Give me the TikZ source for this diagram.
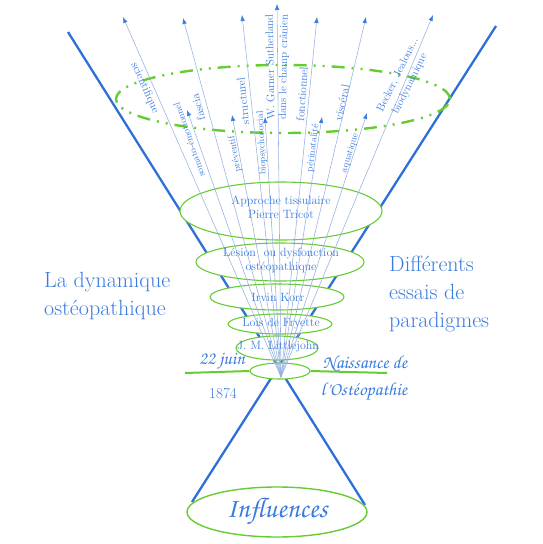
\documentclass[tikz,border=0pt]{standalone}
\usepackage[T1,TU]{fontenc}
\usepackage{fontspec}
\usetikzlibrary{shapes.geometric,arrows.meta}
\definecolor{lblue}{RGB}{47,111,216}
\definecolor{tblue}{RGB}{58,123,222}
\definecolor{gr}{RGB}{102,204,51}
\definecolor{ablue}{RGB}{150,175,225}
\newcommand{\myscript}{\fontencoding{T1}\fontfamily{pzc}\fontseries{mb}\fontshape{it}\selectfont}
\tikzset{
  blueline/.style={draw=lblue,line width=2.3pt},
  gline/.style={draw=gr,line width=2pt},
  ell/.style={ellipse,draw=gr,line width=1.1pt,fill=white,inner sep=0pt},
  ray/.style={draw=ablue,line width=0.55pt,-{Latex[length=6pt,width=4.5pt,color=tblue]}},
  lab/.style={text=tblue,font=\fontsize{11.5}{13}\selectfont,inner sep=0pt},
  slab/.style={text=tblue,font=\fontsize{9.5}{11}\selectfont,inner sep=0pt},
  etext/.style={text=tblue,font=\fontsize{12}{14}\selectfont,inner sep=0pt,align=center},
  big/.style={text=tblue,font=\fontsize{22}{28}\selectfont,inner sep=0pt,align=left,anchor=west},
  scr/.style={text=tblue,font=\myscript\fontsize{18.5}{22}\selectfont,inner sep=0pt}
}
\begin{document}
\begin{tikzpicture}[x=1pt,y=-1pt]
\useasboundingbox (0,0) rectangle (542,544);
% funnel lines
\coordinate (tl) at (68,32);
\coordinate (tr) at (496,26);
\coordinate (bl) at (192,502);
\coordinate (br) at (365,505);
\draw[blueline] (tl) -- (br);
\draw[blueline] (tr) -- (bl);
% dashed ellipse
\node[ellipse,draw=gr,line width=2.4pt,dash pattern=on 13pt off 7pt on 2pt off 7pt on 2pt off 7pt,minimum width=334pt,minimum height=68pt] (dash) at (283,99) {};
% ellipses
\node[ell,minimum width=202pt,minimum height=58pt] (e1) at (281,211) {};
\node[ell,minimum width=168pt,minimum height=38pt] (e2) at (280,262) {};
\node[ell,minimum width=134pt,minimum height=26pt] (e3) at (277,297) {};
\node[ell,minimum width=104pt,minimum height=20pt] (e4) at (280,324) {};
\node[ell,minimum width=82pt,minimum height=24pt] (e5) at (277,348) {};
\node[ell,minimum width=60pt,minimum height=16pt] (c) at (280,371) {};
\node[ell,line width=1.4pt,minimum width=180pt,minimum height=50pt] (inf) at (277,512) {};
% green horizontal lines
\coordinate (gl) at (185,373);
\coordinate (grr) at (387,373);
\draw[gline] (gl) -- (c.west);
\draw[gline] (c.east) -- (grr);
% rays
\coordinate (o) at (281,377);
\coordinate (a1) at (123,17);
\coordinate (a2) at (183,18);
\coordinate (a3) at (242,15);
\coordinate (a4) at (277,4);
\coordinate (a5) at (317,17);
\coordinate (a6) at (366,17);
\coordinate (a7) at (433,15);
\coordinate (b1) at (187,110);
\coordinate (b2) at (232,115);
\coordinate (b3) at (265,117);
\coordinate (b4) at (322,117);
\coordinate (b5) at (367,113);
\foreach \t in {a1,a2,a3,a4,a5,a6,a7,b1,b2,b3,b4,b5}{\draw[ray] (o) -- (\t);}
% ellipse texts
\node[etext] (t1) at (281,207) {Approche tissulaire\\Pierre Tricot};
\node[etext] (t2) at (281,260) {Lésion\ \ ou dysfonction\\ostéopathique};
\node[etext] (t3) at (278,297) {Irvin Korr};
\node[etext] (t4) at (281,324) {Lois de Fryette};
\node[etext] (t5) at (278,347) {J. M. Littlejohn};
% ray labels
\node[lab,rotate=-66] (l1) at (145,88) {scientifique};
\node[slab,rotate=109] (l2) at (189,140) {somato-émotionnel};
\node[lab,rotate=105] (l3) at (198,107) {fascia};
\node[slab,rotate=100] (l4) at (235,154) {préventif};
\node[lab,rotate=96] (l5) at (243,101) {structurel};
\node[slab,rotate=93] (l6) at (262,143) {biopsychosocial};
\node[lab,font=\fontsize{11}{13}\selectfont,rotate=91] (l7) at (270,67) {W. Garner Sutherland};
\node[lab,font=\fontsize{11}{13}\selectfont,rotate=89] (l8) at (284,67) {dans le champ crânien};
\node[lab,rotate=86] (l9) at (302,94) {fonctionnel};
\node[slab,rotate=83] (l10) at (313,148) {périnatalité};
\node[lab,rotate=78] (l11) at (342,103) {viscéral};
\node[slab,rotate=73] (l12) at (350,153) {aquatique};
\node[lab,font=\fontsize{11}{13}\selectfont,rotate=64] (l13) at (398,75) {Becker, Jealous...};
\node[lab,font=\fontsize{11}{13}\selectfont,rotate=64] (l14) at (410,84) {biodynamique};
% side texts
\node[big] (left) at (44,296) {La dynamique\\ostéopathique};
\node[big] (right) at (389,294) {Différents\\essais de\\paradigmes};
% dates
\node[scr] (d1) at (222,362) {22 juin};
\node[text=tblue,font=\fontsize{15}{18}\selectfont,inner sep=0pt] (d2) at (223,394) {1874};
\node[scr] (n1) at (365,364) {Naissance de};
\node[scr] (n2) at (364,392) {l'Ostéopathie};
\node[scr,font=\myscript\fontsize{28}{32}\selectfont] (it) at (inf) {Influences};
\end{tikzpicture}
\end{document}
